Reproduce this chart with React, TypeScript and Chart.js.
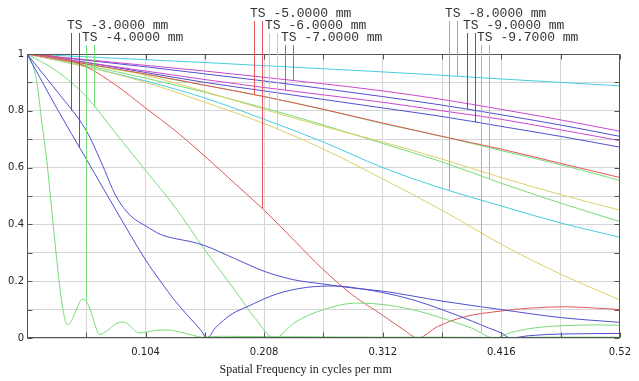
import React, { useEffect, useRef } from "react";
import { Chart, registerables } from "chart.js";

Chart.register(...registerables);

// ---------- axis ticks ----------
const xTicks = [0, 0.052, 0.104, 0.156, 0.208, 0.26, 0.312, 0.364, 0.416, 0.468, 0.52];
const xTickLabels = ["", "", "0.104", "", "0.208", "", "0.312", "", "0.416", "", "0.52"];
const yTicks = [0, 0.1, 0.2, 0.3, 0.4, 0.5, 0.6, 0.7, 0.8, 0.9, 1];
const yTickLabels = ["0", "", "0.2", "", "0.4", "", "0.6", "", "0.8", "", "1"];
const xTitle = "Spatial Frequency in cycles per mm";

// ---------- fields ----------
const fieldNames = [
  "TS -3.0000 mm",
  "TS -4.0000 mm",
  "TS -5.0000 mm",
  "TS -6.0000 mm",
  "TS -7.0000 mm",
  "TS -8.0000 mm",
  "TS -9.0000 mm",
  "TS -9.7000 mm",
];
const fieldColors = ["#5050d0", "#78dc78", "#e05858", "#dcd068", "#cc48cc", "#48cce0", "#5050d0", "#78dc78"];
const labelFreq = [0.0355, 0.0485, 0.196, 0.209, 0.223, 0.367, 0.382, 0.395];
const labelRow = [1, 2, 0, 1, 2, 0, 1, 2];

// ---------- curves (frequency, MTF) ----------
const F11 = [0, 0.052, 0.104, 0.156, 0.208, 0.26, 0.312, 0.364, 0.416, 0.468, 0.52];

const f3T_F = [0, 0.026, 0.052, 0.065, 0.078, 0.091, 0.104, 0.117, 0.13, 0.143, 0.156, 0.182, 0.208, 0.234, 0.26, 0.286, 0.312, 0.364, 0.416, 0.468, 0.52];
const f3T_V = [1, 0.87, 0.73, 0.62, 0.5, 0.43, 0.395, 0.365, 0.35, 0.34, 0.325, 0.28, 0.235, 0.205, 0.19, 0.176, 0.165, 0.13, 0.1, 0.072, 0.055];

const f3S_F = [0, 0.026, 0.052, 0.078, 0.104, 0.117, 0.13, 0.143, 0.152, 0.158, 0.165, 0.18, 0.193, 0.219, 0.245, 0.27, 0.295, 0.312, 0.338, 0.364, 0.39, 0.405, 0.416, 0.424, 0.44, 0.468, 0.52];
const f3S_V = [1, 0.81, 0.63, 0.45, 0.275, 0.2, 0.13, 0.07, 0.03, 0, 0.035, 0.085, 0.11, 0.155, 0.178, 0.183, 0.172, 0.16, 0.135, 0.1, 0.06, 0.035, 0.018, 0, 0.008, 0.014, 0.016];

const f4T_F = [0, 0.0043, 0.0087, 0.013, 0.0173, 0.0217, 0.026, 0.03, 0.0355, 0.039, 0.0433, 0.0485, 0.052, 0.0563, 0.0606, 0.0633, 0.07, 0.078, 0.085, 0.091, 0.098, 0.104, 0.113, 0.124, 0.135, 0.145, 0.154, 0.17, 0.2, 0.26, 0.312, 0.364, 0.416, 0.468, 0.52];
const f4T_V = [1, 0.97, 0.9, 0.76, 0.627, 0.45, 0.28, 0.14, 0.046, 0.06, 0.1, 0.137, 0.13, 0.09, 0.035, 0.012, 0.025, 0.05, 0.056, 0.04, 0.018, 0.02, 0.027, 0.028, 0.02, 0.01, 0.003, 0.006, 0.005, 0.004, 0.003, 0.003, 0.002, 0.003, 0.003];

const f4S_F = [0, 0.026, 0.052, 0.078, 0.104, 0.13, 0.156, 0.182, 0.2, 0.217, 0.235, 0.26, 0.29, 0.312, 0.338, 0.364, 0.39, 0.41, 0.425, 0.45, 0.468, 0.5, 0.52];
const f4S_V = [1, 0.94, 0.85, 0.72, 0.59, 0.46, 0.31, 0.17, 0.07, 0, 0.055, 0.1, 0.123, 0.118, 0.1, 0.07, 0.035, 0, 0.02, 0.038, 0.043, 0.046, 0.045];

const f5T_V = [1, 0.965, 0.93, 0.89, 0.85, 0.805, 0.757, 0.71, 0.665, 0.615, 0.565];

const f5S_F = [0, 0.026, 0.052, 0.078, 0.104, 0.13, 0.156, 0.182, 0.208, 0.234, 0.26, 0.286, 0.312, 0.33, 0.343, 0.36, 0.384, 0.416, 0.44, 0.473, 0.5, 0.52];
const f5S_V = [1, 0.99, 0.955, 0.89, 0.81, 0.73, 0.64, 0.545, 0.45, 0.345, 0.24, 0.15, 0.08, 0.03, 0, 0.04, 0.075, 0.095, 0.105, 0.11, 0.105, 0.1];

const f6T_V = [1, 0.965, 0.925, 0.868, 0.805, 0.745, 0.69, 0.63, 0.565, 0.505, 0.45];
const f6S_V = [1, 0.955, 0.9, 0.83, 0.755, 0.665, 0.56, 0.45, 0.33, 0.225, 0.134];
const f7T_V = [1, 0.98, 0.96, 0.94, 0.918, 0.895, 0.87, 0.84, 0.805, 0.768, 0.728];
const f7S_V = [1, 0.97, 0.94, 0.91, 0.882, 0.856, 0.83, 0.8, 0.77, 0.733, 0.695];
const f8T_V = [1, 0.99, 0.98, 0.97, 0.959, 0.948, 0.937, 0.925, 0.912, 0.9, 0.888];
const f8S_V = [1, 0.955, 0.905, 0.845, 0.77, 0.69, 0.6, 0.527, 0.465, 0.405, 0.355];
const f9T_V = [1, 0.978, 0.955, 0.93, 0.905, 0.878, 0.85, 0.82, 0.786, 0.75, 0.71];
const f9S_V = [1, 0.97, 0.935, 0.9, 0.87, 0.84, 0.81, 0.78, 0.745, 0.71, 0.672];
const f97T_V = [1, 0.965, 0.928, 0.89, 0.85, 0.805, 0.755, 0.71, 0.66, 0.61, 0.555];
const f97S_V = [1, 0.96, 0.915, 0.865, 0.81, 0.75, 0.685, 0.62, 0.545, 0.475, 0.41];

type Curve = { key: string; field: number; f: number[]; v: number[] };
const curves: Curve[] = [
  { key: "3T", field: 0, f: f3T_F, v: f3T_V },
  { key: "3S", field: 0, f: f3S_F, v: f3S_V },
  { key: "4T", field: 1, f: f4T_F, v: f4T_V },
  { key: "4S", field: 1, f: f4S_F, v: f4S_V },
  { key: "5T", field: 2, f: F11, v: f5T_V },
  { key: "5S", field: 2, f: f5S_F, v: f5S_V },
  { key: "6T", field: 3, f: F11, v: f6T_V },
  { key: "6S", field: 3, f: F11, v: f6S_V },
  { key: "7T", field: 4, f: F11, v: f7T_V },
  { key: "7S", field: 4, f: F11, v: f7S_V },
  { key: "8T", field: 5, f: F11, v: f8T_V },
  { key: "8S", field: 5, f: F11, v: f8S_V },
  { key: "9T", field: 6, f: F11, v: f9T_V },
  { key: "9S", field: 6, f: F11, v: f9S_V },
  { key: "97T", field: 7, f: F11, v: f97T_V },
  { key: "97S", field: 7, f: F11, v: f97S_V },
];

// callout targets: [line under "T", line under "S"]
const calloutTargets = [
  ["3T", "3S"],
  ["4T", "4S"],
  ["5T", "5S"],
  ["6T", "6S"],
  ["7S", "7T"],
  ["8S", "8T"],
  ["9T", "9S"],
  ["4S", "97S"],
];

const interp = (fs: number[], vs: number[], f: number) => {
  if (f <= fs[0]) return vs[0];
  for (let i = 1; i < fs.length; i++) {
    if (f <= fs[i]) {
      const t = (f - fs[i - 1]) / (fs[i] - fs[i - 1]);
      return vs[i - 1] + t * (vs[i] - vs[i - 1]);
    }
  }
  return vs[vs.length - 1];
};

const ROW_Y = [14, 26, 38];
const LABEL_FONT = "13px 'Liberation Mono', 'DejaVu Sans Mono', monospace";

const framePlugin = {
  id: "frame",
  afterDatasetsDraw(chart: any) {
    const { ctx, chartArea } = chart;
    const xs = chart.scales.x;
    const ys = chart.scales.y;
    const L = Math.round(chartArea.left) + 0.5;
    const R = Math.round(chartArea.right) - 0.5;
    const T = Math.round(chartArea.top) + 0.5;
    const B = Math.round(chartArea.bottom) - 0.5;
    ctx.save();
    ctx.strokeStyle = "#555";
    ctx.lineWidth = 1;
    ctx.strokeRect(L, T, R - L, B - T);
    ctx.beginPath();
    xTicks.forEach((v) => {
      const px = Math.round(xs.getPixelForValue(v)) + 0.5;
      ctx.moveTo(px, B);
      ctx.lineTo(px, B - 5);
      ctx.moveTo(px, T);
      ctx.lineTo(px, T + 5);
    });
    yTicks.forEach((v) => {
      const py = Math.round(ys.getPixelForValue(v)) + 0.5;
      ctx.moveTo(L, py);
      ctx.lineTo(L + 5, py);
      ctx.moveTo(R, py);
      ctx.lineTo(R - 5, py);
    });
    ctx.stroke();
    ctx.restore();
  },
  afterDraw(chart: any) {
    const { ctx, chartArea } = chart;
    const xs = chart.scales.x;
    const ys = chart.scales.y;
    ctx.save();
    ctx.font = LABEL_FONT;
    const wT = ctx.measureText("T").width;
    const wS = ctx.measureText("S").width;
    fieldNames.forEach((name, i) => {
      const x0 = Math.round(xs.getPixelForValue(labelFreq[i]));
      const rowY = ROW_Y[labelRow[i]];
      const lineXs = [x0 + wT / 2, x0 + wT + wS / 2];
      ctx.strokeStyle = fieldColors[i];
      ctx.lineWidth = 1;
      lineXs.forEach((lx, j) => {
        const px = Math.round(lx) + 0.5;
        const c = curves.find((cc) => cc.key === calloutTargets[i][j])!;
        const f = xs.getValueForPixel(px);
        const py = ys.getPixelForValue(interp(c.f, c.v, f));
        ctx.beginPath();
        ctx.moveTo(px, rowY + 7);
        ctx.lineTo(px, py);
        ctx.stroke();
      });
    });
    ctx.fillStyle = "#333";
    ctx.textBaseline = "middle";
    ctx.textAlign = "left";
    fieldNames.forEach((name, i) => {
      const x0 = Math.round(xs.getPixelForValue(labelFreq[i]));
      ctx.fillText(name, x0, ROW_Y[labelRow[i]]);
    });
    ctx.font = "12px 'Liberation Serif', 'Times New Roman', serif";
    ctx.fillStyle = "#222";
    ctx.textAlign = "center";
    ctx.fillText(xTitle, chartArea.left + chartArea.width * 0.47, 370);
    ctx.restore();
  },
};

export default function App() {
  const ref = useRef<HTMLCanvasElement | null>(null);
  useEffect(() => {
    if (!ref.current) return;
    const datasets = curves.map((c) => ({
      label: c.key,
      data: c.f.map((f, i) => ({ x: f, y: c.v[i] })),
      borderColor: fieldColors[c.field],
      backgroundColor: fieldColors[c.field],
      borderWidth: 1,
      pointRadius: 0,
      fill: false,
      cubicInterpolationMode: "monotone" as const,
    }));
    const tickFont = { family: "'DejaVu Sans', sans-serif", size: 10 };
    const chart = new Chart(ref.current, {
      type: "line",
      data: { datasets },
      options: {
        animation: false,
        responsive: false,
        devicePixelRatio: 1,
        layout: { padding: { top: 54, right: 12, left: 0, bottom: 0 } },
        plugins: { legend: { display: false }, tooltip: { enabled: false } },
        scales: {
          x: {
            type: "linear",
            min: 0,
            max: 0.52,
            afterFit: (s: any) => {
              s.height = 43;
            },
            afterBuildTicks: (s: any) => {
              s.ticks = xTicks.map((v) => ({ value: v }));
            },
            grid: { color: "#d6d6d6", drawTicks: false, lineWidth: 1 },
            border: { display: false },
            ticks: {
              autoSkip: false,
              maxRotation: 0,
              padding: 8,
              color: "#222",
              font: tickFont,
              callback: (_v: any, i: number) => xTickLabels[i],
            },
          },
          y: {
            type: "linear",
            min: 0,
            max: 1,
            afterFit: (s: any) => {
              s.width = 27;
            },
            afterBuildTicks: (s: any) => {
              s.ticks = yTicks.map((v) => ({ value: v }));
            },
            grid: { color: "#d6d6d6", drawTicks: false, lineWidth: 1 },
            border: { display: false },
            ticks: {
              autoSkip: false,
              padding: 3,
              color: "#222",
              font: tickFont,
              callback: (_v: any, i: number) => yTickLabels[i],
            },
          },
        },
      },
      plugins: [framePlugin],
    });
    return () => chart.destroy();
  }, []);
  return (
    <div style={{ position: "absolute", left: 0, top: 0, width: 639, height: 381, background: "#fff" }}>
      <canvas ref={ref} width={639} height={381} style={{ display: "block" }} />
    </div>
  );
}
